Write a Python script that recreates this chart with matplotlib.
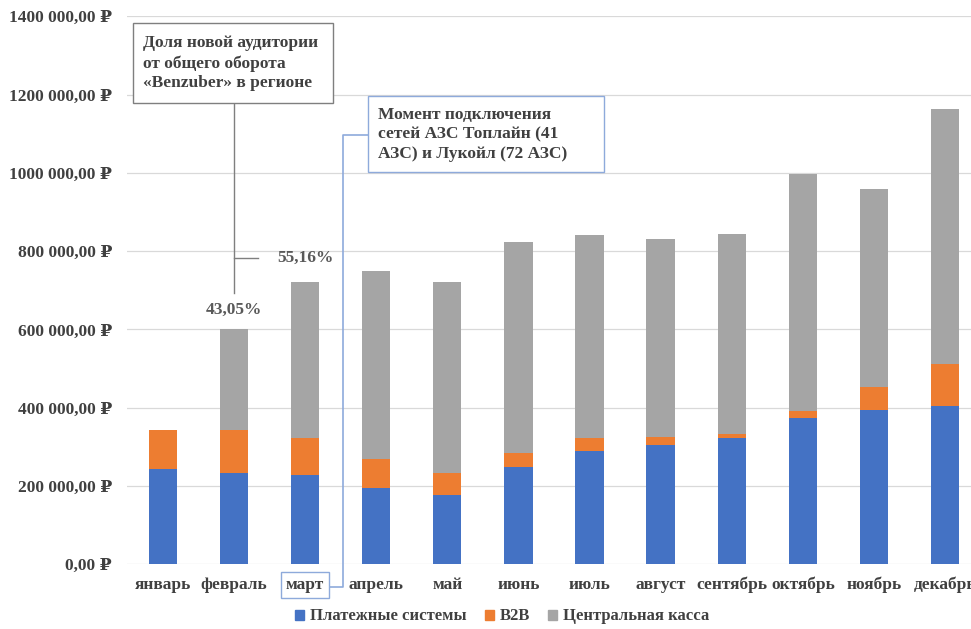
import numpy as np
import matplotlib
matplotlib.use("Agg")
import matplotlib.pyplot as plt
from matplotlib.patches import Patch, Rectangle

plt.rcParams['font.family'] = ['Liberation Serif', 'DejaVu Serif']
plt.rcParams['font.weight'] = 'bold'

# Оборот по месяцам, руб.
months = ['январь', 'февраль', 'март', 'апрель', 'май', 'июнь',
          'июль', 'август', 'сентябрь', 'октябрь', 'ноябрь', 'декабрь']
payment_systems = [243000, 232000, 227000, 194000, 176000, 249000,
                   289000, 305000, 322000, 374000, 393000, 404000]
b2b = [100000, 110000, 96000, 74000, 58000, 34000,
       34000, 21000, 12000, 17000, 61000, 107000]
central_cash = [0, 258000, 397000, 481000, 487000, 540000,
                518000, 505000, 509000, 607000, 506000, 652000]

y_ticks = [0, 200000, 400000, 600000, 800000, 1000000, 1200000, 1400000]
y_tick_labels = ['0,00 ₽', '200 000,00 ₽', '400 000,00 ₽', '600 000,00 ₽',
                 '800 000,00 ₽', '1000 000,00 ₽', '1200 000,00 ₽', '1400 000,00 ₽']

series_names = ['Платежные системы', 'B2B', 'Центральная касса']
share_labels = ['43,05%', '55,16%']

c_blue = '#4472C4'
c_orange = '#ED7D31'
c_gray = '#A5A5A5'
c_text = '#404040'
c_link = '#8EAADB'
fs = 12.5

fig = plt.figure(figsize=(9.71, 6.29), dpi=100)
ax = fig.add_axes([0.131, 0.103, 0.879, 0.871])

x = np.arange(len(months))
w = 0.40
ps = np.array(payment_systems)
bb = np.array(b2b)
cc = np.array(central_cash)
ax.bar(x, ps, w, color=c_blue, zorder=3)
ax.bar(x, bb, w, bottom=ps, color=c_orange, zorder=3)
ax.bar(x, cc, w, bottom=ps + bb, color=c_gray, zorder=3)

ax.set_xlim(-0.5, len(months) - 0.5)
ax.set_ylim(0, 1400000)
ax.set_yticks(y_ticks)
ax.set_yticklabels(y_tick_labels)
ax.set_xticks(x)
ax.set_xticklabels(months)
ax.tick_params(axis='both', length=0, labelsize=fs, colors=c_text)
ax.tick_params(axis='y', pad=11)
ax.tick_params(axis='x', pad=9)
ax.grid(axis='y', color='#D9D9D9', linewidth=0.9, zorder=0)
for s in ax.spines.values():
    s.set_visible(False)

# подпись про долю новой аудитории
ax.add_patch(Rectangle((-0.423, 1177700), 2.817, 204300, fc='white',
                       ec='#7F7F7F', lw=1.0, zorder=5, clip_on=False))
ax.text(-0.28, 1280000, 'Доля новой аудитории\nот общего оборота\n«Benzuber» в регионе',
        ha='left', va='center', fontsize=fs, color=c_text, linespacing=1.3,
        zorder=6)
ax.plot([1.0, 1.0], [1177700, 692000], color='#7F7F7F', lw=1.0, zorder=4, clip_on=False)
ax.plot([1.0, 1.34], [782000, 782000], color='#7F7F7F', lw=1.0, zorder=4, clip_on=False)
ax.text(1.0, 649000, share_labels[0], ha='center', va='center',
        fontsize=fs, color='#595959')
ax.text(2.0, 782000, share_labels[1], ha='center', va='center',
        fontsize=fs, color='#595959')

# подпись про подключение сетей АЗС
ax.add_patch(Rectangle((2.887, 1001400), 3.31, 194200, fc='white',
                       ec=c_link, lw=1.0, zorder=5, clip_on=False))
ax.text(3.03, 1098500, 'Момент подключения\nсетей АЗС Топлайн (41\nАЗС) и Лукойл (72 АЗС)',
        ha='left', va='center', fontsize=fs, color=c_text, linespacing=1.3,
        zorder=6)
ax.plot([2.887, 2.535, 2.535, 2.35], [1096000, 1096000, -59000, -59000],
        color=c_link, lw=1.2, zorder=4, clip_on=False)
ax.get_xticklabels()[2].set_bbox(dict(boxstyle='square,pad=0.3', fc='none',
                                      ec=c_link, lw=1.0))

handles = [Patch(color=c) for c in (c_blue, c_orange, c_gray)]
fig.legend(handles, series_names, loc='center', bbox_to_anchor=(0.517, 0.02),
           ncol=3, frameon=False, fontsize=12, handlelength=0.55,
           handleheight=0.55, handletextpad=0.35, columnspacing=1.1,
           labelcolor=c_text)

fig.savefig('out.png', dpi=100)
